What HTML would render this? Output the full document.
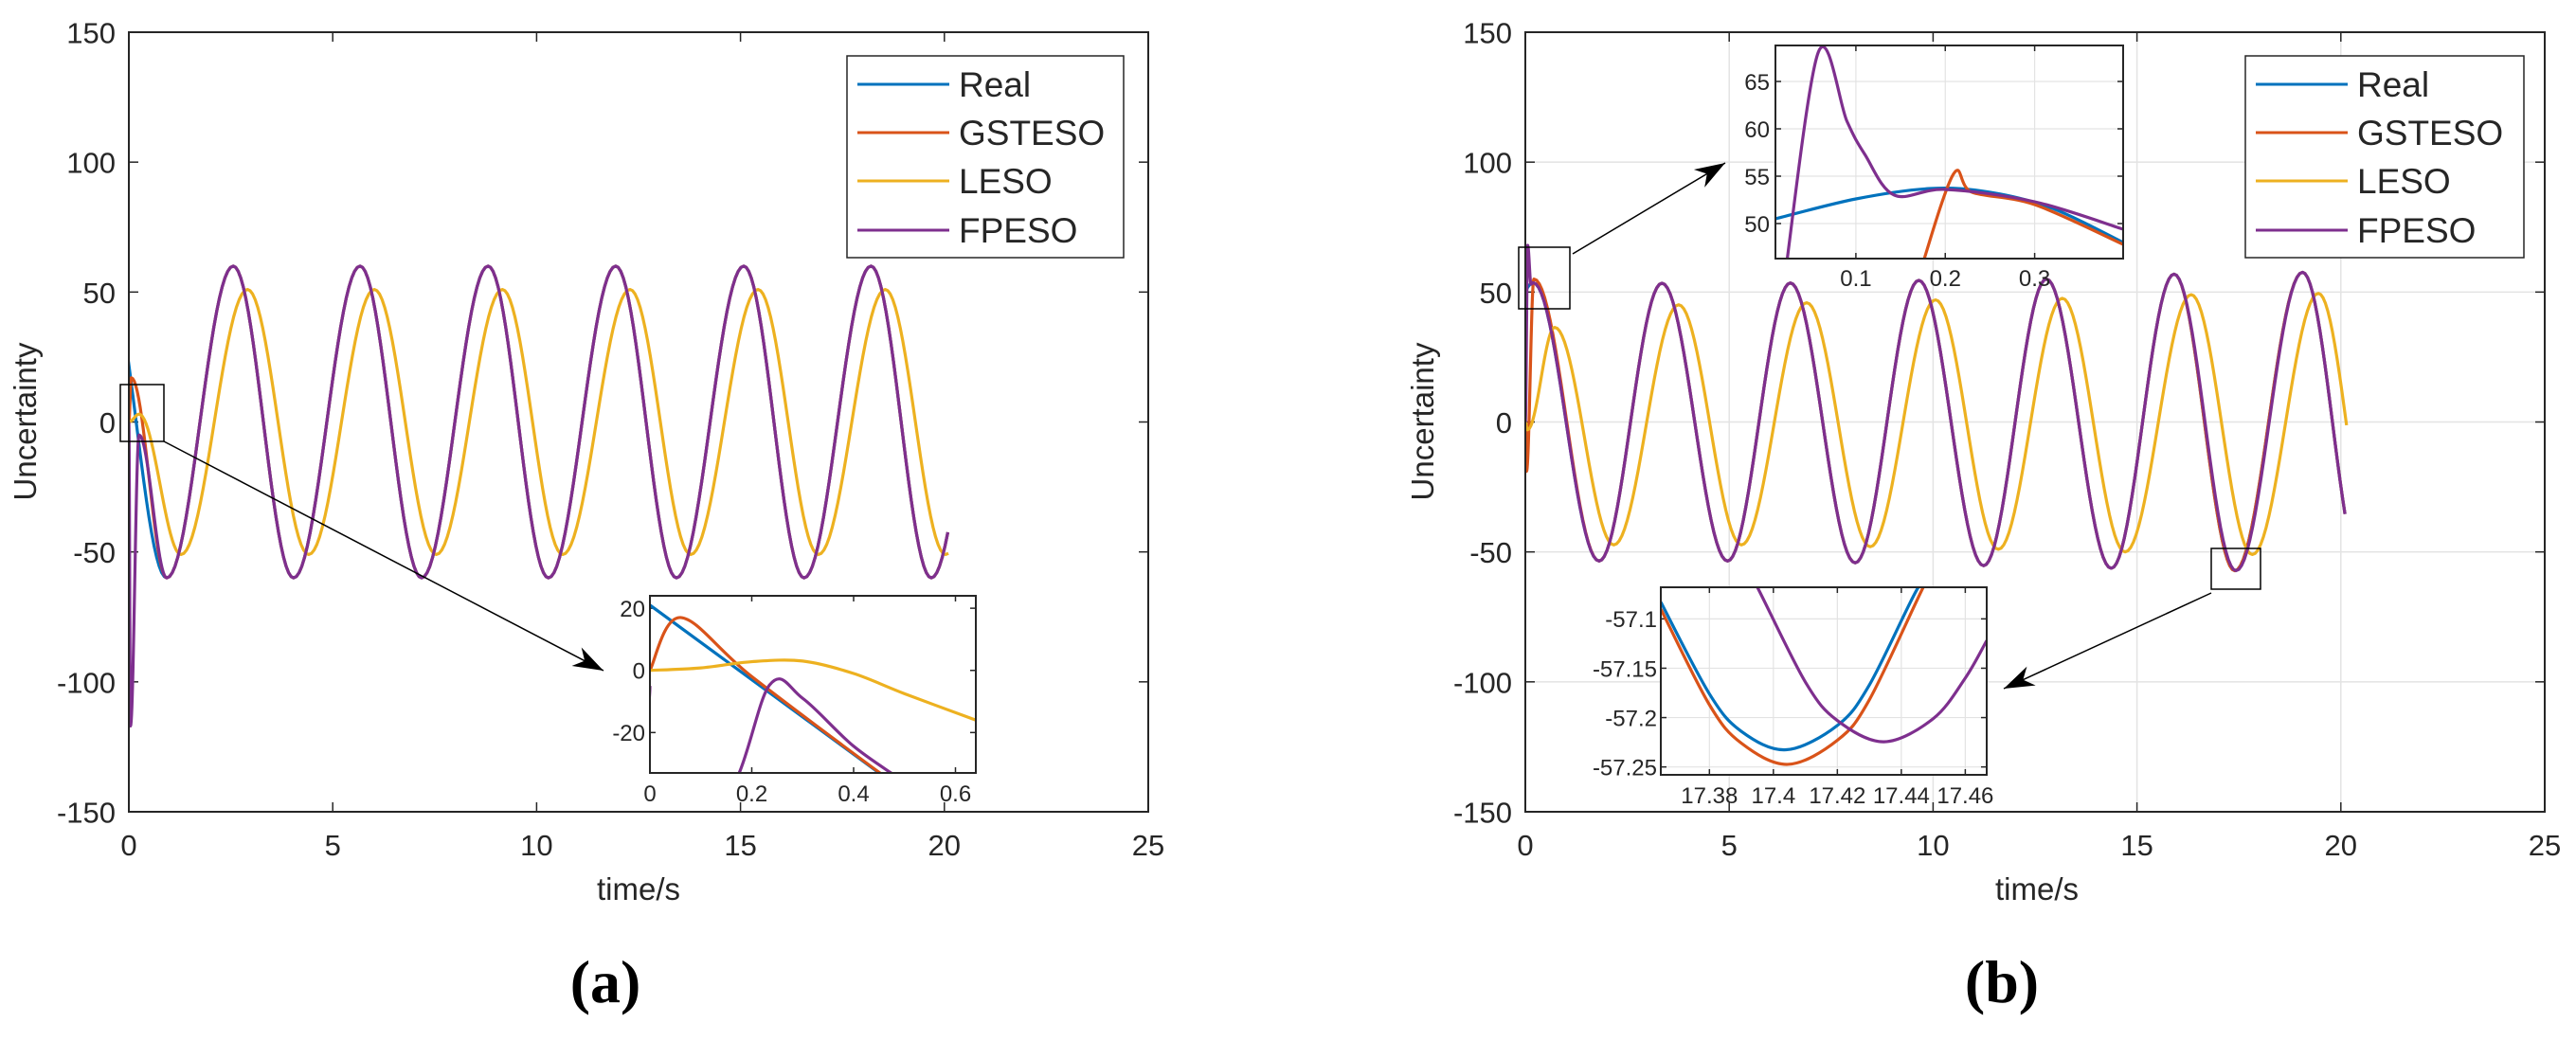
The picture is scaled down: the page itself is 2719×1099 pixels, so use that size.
<!DOCTYPE html>
<html><head><meta charset="utf-8"><style>
html,body{margin:0;padding:0;background:#fff;}
svg{display:block;font-family:"Liberation Sans",Arial,sans-serif;}
</style></head><body>
<svg id="fig" width="2719" height="1099" viewBox="0 0 2719 1099" xmlns="http://www.w3.org/2000/svg">
<defs>
<clipPath id="clipA"><rect x="136" y="34" width="1076" height="823"/></clipPath>
<clipPath id="clipB"><rect x="1610" y="34" width="1076" height="823"/></clipPath>
<clipPath id="clipIA"><rect x="686" y="629" width="344" height="187"/></clipPath>
<clipPath id="clipIB1"><rect x="1874" y="48" width="367" height="225"/></clipPath>
<clipPath id="clipIB2"><rect x="1753" y="620" width="344" height="198"/></clipPath>
</defs>
</svg>
<script>
// ---------- Panel (a) data ----------
const realA_t = [-0.57,0.93,2.56,4.04,5.67,7.18,8.81,10.29,11.94,13.43,15.08,16.56,18.2,19.68,21.3];
const realA_v = [60,-60,60,-60,60,-60,60,-60,60,-60,60,-60,60,-60,60];
const gstA_t = [0,0.06,0.93,2.56,4.04,5.67,7.18,8.81,10.29,11.94,13.43,15.08,16.56,18.2,19.68,21.3];
const gstA_v = [0,17,-60,60,-60,60,-60,60,-60,60,-60,60,-60,60,-60,60];
const lesoA_t = [0,0.25,1.28,2.91,4.41,6.02,7.54,9.16,10.64,12.29,13.78,15.43,16.91,18.55,20.03,21.7];
const lesoA_v = [0,3,-51,51,-51,51,-51,51,-51,51,-51,51,-51,51,-51,51];
const fpA_t = [0,0.04,0.25,0.93,2.56,4.04,5.67,7.18,8.81,10.29,11.94,13.43,15.08,16.56,18.2,19.68,21.3];
const fpA_v = [0,-117,-5,-60,60,-60,60,-60,60,-60,60,-60,60,-60,60,-60,60];
const tEndA = 20.1;
// inset (a)
const iaReal_t = [0,0.2,0.45,0.6,0.7];
const iaReal_v = [21,-3,-33,-51,-63];
const iaGst_t = [0,0.06,0.2,0.46,0.6];
const iaGst_v = [0,17,-2,-34,-50];
const iaLeso_t = [0,0.1,0.2,0.3,0.4,0.5,0.64];
const iaLeso_v = [0,0.8,2.8,3,-1,-7.5,-16];
const iaFp_t = [0,0.004,0.15,0.235,0.3,0.4,0.5,0.6];
const iaFp_v = [-5,-40,-40,-4.7,-9,-24.4,-36,-48];

// ---------- Panel (b) data ----------
const realB_t = [-1.4,0.19,1.81,3.35,4.96,6.5,8.09,9.65,11.24,12.78,14.37,15.91,17.40,19.06,20.53];
const realB_v = [-53,53.6,-53.5,53.4,-53.5,53.5,-54.2,54.5,-55.3,55,-56.3,56.9,-57.23,57.6,-58];
const gstB_t = [0,0.03,0.21,1.81,3.35,4.96,6.5,8.09,9.65,11.24,12.78,14.37,15.91,17.40,19.06,20.53];
const gstB_v = [0,-19,55,-53.5,53.4,-53.5,53.5,-54.2,54.5,-55.3,55,-56.3,56.9,-57.25,57.6,-58];
const lesoB_t = [0,0.05,0.72,2.17,3.76,5.3,6.9,8.46,10.06,11.6,13.17,14.71,16.33,17.83,19.45,20.83];
const lesoB_v = [0,-3,36.4,-47.3,45.1,-47.3,45.9,-48,47,-49,47.6,-50,49,-51,49.5,-52];
const fpB_t = [0,0.058,0.14,0.19,1.81,3.35,4.96,6.5,8.09,9.65,11.24,12.78,14.37,15.91,17.43,19.06,20.53];
const fpB_v = [0,68,53,53.6,-53.5,53.4,-53.5,53.5,-54.2,54.5,-55.3,55,-56.3,56.9,-57.22,57.6,-58];
const tEndB = 20.15;
// inset (b) top
const ib1Real_t = [0.01,0.1,0.184,0.25,0.32,0.399];
const ib1Real_v = [50.5,52.6,53.7,53.3,51.6,48];
const ib1Gst_t = [0.17,0.209,0.23,0.3,0.399];
const ib1Gst_v = [44.3,55.2,53.3,52,47.8];
const ib1Fp_t = [0.02,0.058,0.09,0.11,0.143,0.2,0.3,0.399];
const ib1Fp_v = [44,68.1,60.8,57.3,53.0,53.6,52.3,49.4];
// inset (b) bottom
const ib2Real_t = [17.3648,17.38,17.39,17.404,17.42,17.43,17.4446,17.45];
const ib2Real_v = [-57.083,-57.176,-57.214,-57.2326,-57.208,-57.167,-57.072,-57.05];
const ib2Gst_t = [17.3648,17.38,17.39,17.4045,17.42,17.43,17.447,17.452];
const ib2Gst_v = [-57.090,-57.187,-57.226,-57.2474,-57.223,-57.182,-57.067,-57.04];
const ib2Fp_t = [17.39,17.395,17.41,17.42,17.4346,17.45,17.46,17.4667];
const ib2Fp_v = [-57.04,-57.068,-57.164,-57.203,-57.2245,-57.201,-57.160,-57.122];

// ticks
const mainXTicks = [0,5,10,15,20,25];
const mainXLabels = ["0","5","10","15","20","25"];
const mainYTicks = [150,100,50,0,-50,-100,-150];
const mainYLabels = ["150","100","50","0","-50","-100","-150"];
const iaXTicks = [0,0.2,0.4,0.6];
const iaXLabels = ["0","0.2","0.4","0.6"];
const iaYTicks = [20,0,-20];
const iaYLabels = ["20","0","-20"];
const ib1XTicks = [0.1,0.2,0.3];
const ib1XLabels = ["0.1","0.2","0.3"];
const ib1YTicks = [50,55,60,65];
const ib1YLabels = ["50","55","60","65"];
const ib2XTicks = [17.38,17.4,17.42,17.44,17.46];
const ib2XLabels = ["17.38","17.4","17.42","17.44","17.46"];
const ib2YTicks = [-57.1,-57.15,-57.2,-57.25];
const ib2YLabels = ["-57.1","-57.15","-57.2","-57.25"];
const legendNames = ["Real","GSTESO","LESO","FPESO"];

const COL = {real:"#0072BD", gst:"#D95319", leso:"#EDB120", fp:"#7E2F8E"};
const NS = "http://www.w3.org/2000/svg";
const svg = document.getElementById('fig');

function mk(parent, tag, name, attrs, inter){
  const el = document.createElementNS(NS, tag);
  
  
  for (const k in attrs) el.setAttribute(k, attrs[k]);
  parent.appendChild(el);
  return el;
}
function txt(parent, name, x, y, s, size, anchor, extra){
  const a = Object.assign({x:x, y:y, 'font-size':size, 'text-anchor':anchor, fill:'#262626'}, extra||{});
  const t = mk(parent, 'text', name, a, false);
  t.textContent = s;
  return t;
}
function scale(d0,d1,r0,r1){ return v => r0 + (v-d0)/(d1-d0)*(r1-r0); }

function cosPath(ts, vs, tEnd, X, Y){
  let d = "";
  const N = 24;
  for (let i=0;i<ts.length-1;i++){
    for (let k=(i===0?0:1);k<=N;k++){
      const f = k/N;
      const t = ts[i]+(ts[i+1]-ts[i])*f;
      if (t>tEnd) return d;
      const v = vs[i]+(vs[i+1]-vs[i])*(1-Math.cos(Math.PI*f))/2;
      d += (d===""?"M":"L")+X(t).toFixed(2)+","+Y(v).toFixed(2);
    }
  }
  return d;
}
function crPath(ts, vs, X, Y){
  const P = ts.map((t,i)=>[X(t),Y(vs[i])]);
  let d = "M"+P[0][0].toFixed(2)+","+P[0][1].toFixed(2);
  for (let i=0;i<P.length-1;i++){
    const p0=P[Math.max(0,i-1)], p1=P[i], p2=P[i+1], p3=P[Math.min(P.length-1,i+2)];
    const c1=[p1[0]+(p2[0]-p0[0])/6, p1[1]+(p2[1]-p0[1])/6];
    const c2=[p2[0]-(p3[0]-p1[0])/6, p2[1]-(p3[1]-p1[1])/6];
    d += "C"+c1[0].toFixed(2)+","+c1[1].toFixed(2)+" "+c2[0].toFixed(2)+","+c2[1].toFixed(2)+" "+p2[0].toFixed(2)+","+p2[1].toFixed(2);
  }
  return d;
}

function drawAxes(g, box, xT, xL, yT, yL, X, Y, opt){
  const {x0,y0,x1,y1} = box;
  if (opt.grid){
    xT.forEach(t=>{ mk(g,'line','x-grid-line',{x1:X(t),x2:X(t),y1:y0,y2:y1,stroke:'#e3e3e3','stroke-width':opt.gw||1.5}); });
    yT.forEach(v=>{ mk(g,'line','y-grid-line',{x1:x0,x2:x1,y1:Y(v),y2:Y(v),stroke:'#e3e3e3','stroke-width':opt.gw||1.5}); });
  }
  const tl = opt.tick;
  xT.forEach((t,i)=>{
    mk(g,'line','x-tick',{x1:X(t),x2:X(t),y1:y1,y2:y1-tl,stroke:'#262626','stroke-width':1.5});
    mk(g,'line','x-tick-top',{x1:X(t),x2:X(t),y1:y0,y2:y0+tl,stroke:'#262626','stroke-width':1.5});
    txt(g,'x-tick-label',X(t),y1+opt.xlOff,xL[i],opt.fs,'middle');
  });
  yT.forEach((v,i)=>{
    mk(g,'line','y-tick',{x1:x0,x2:x0+tl,y1:Y(v),y2:Y(v),stroke:'#262626','stroke-width':1.5});
    mk(g,'line','y-tick-right',{x1:x1,x2:x1-tl,y1:Y(v),y2:Y(v),stroke:'#262626','stroke-width':1.5});
    txt(g,'y-tick-label',x0-opt.ylOff,Y(v)+opt.fs*0.37,yL[i],opt.fs,'end');
  });
}
function frame(g, box, name){
  mk(g,'rect',name,{x:box.x0,y:box.y0,width:box.x1-box.x0,height:box.y1-box.y0,fill:'none',stroke:'#262626','stroke-width':2});
}
function series(g, name, d, col, clip, w){
  mk(g,'path',name,{d:d,fill:'none',stroke:col,'stroke-width':w||3.2,'stroke-linejoin':'round','clip-path':'url(#'+clip+')'});
}
function legend(g, x0, y0, x1, y1){
  mk(g,'rect','legend-box',{x:x0,y:y0,width:x1-x0,height:y1-y0,fill:'#fff',stroke:'#262626','stroke-width':1.5});
  const cols=[COL.real,COL.gst,COL.leso,COL.fp];
  const ys=[89,140,191,243];
  legendNames.forEach((n,i)=>{
    mk(g,'line','legend-swatch-'+n.toLowerCase(),{x1:x0+11,x2:x0+108,y1:ys[i],y2:ys[i],stroke:cols[i],'stroke-width':3});
    txt(g,'legend-label-'+n.toLowerCase(),x0+118,ys[i]+13,n,37,'start');
  });
}
function arrow(g, name, xa, ya, xb, yb){
  mk(g,'line',name,{x1:xa,y1:ya,x2:xb,y2:yb,stroke:'#000','stroke-width':1.5});
  const ang=Math.atan2(yb-ya,xb-xa), L=32, W=11;
  const bx=xb-L*Math.cos(ang), by=yb-L*Math.sin(ang);
  const px=-Math.sin(ang)*W, py=Math.cos(ang)*W;
  const mx=xb-L*0.7*Math.cos(ang), my=yb-L*0.7*Math.sin(ang);
  mk(g,'path',name+'-head',{d:`M${xb},${yb}L${bx+px},${by+py}L${mx},${my}L${bx-px},${by-py}Z`,fill:'#000'});
}

// ================= Panel A =================
const gA = mk(svg,'g','panel-a',{},false);
const boxA = {x0:136,y0:34,x1:1212,y1:857};
const XA = scale(0,25,136,1212), YA = scale(150,-150,34,857);
drawAxes(gA, boxA, mainXTicks, mainXLabels, mainYTicks, mainYLabels, XA, YA, {tick:10, fs:31, xlOff:46, ylOff:14, grid:false});
series(gA,'series-real-a',cosPath(realA_t,realA_v,tEndA,XA,YA),COL.real,'clipA');
series(gA,'series-gsteso-a',cosPath(gstA_t,gstA_v,tEndA,XA,YA),COL.gst,'clipA');
series(gA,'series-leso-a',cosPath(lesoA_t,lesoA_v,tEndA,XA,YA),COL.leso,'clipA');
series(gA,'series-fpeso-a',cosPath(fpA_t,fpA_v,tEndA,XA,YA),COL.fp,'clipA');
frame(gA, boxA, 'axes-frame-a');
txt(gA,'x-axis-title-a',674,950,'time/s',33,'middle');
txt(gA,'y-axis-title-a',0,0,'Uncertainty',33,'middle',{transform:'translate(38,445) rotate(-90)'});
legend(gA,894,59,1186,272);
mk(gA,'rect','zoom-box-a',{x:127,y:406,width:46,height:60,fill:'none',stroke:'#000','stroke-width':1.5});
arrow(gA,'zoom-arrow-a',173,466,637,708);
// inset a
const boxIA = {x0:686,y0:629,x1:1030,y1:816};
const gIA = mk(gA,'g','inset-a',{},false);
mk(gIA,'rect','inset-a-bg',{x:686,y:629,width:344,height:187,fill:'#fff'});
const XIA = scale(0,0.64,686,1030), YIA = scale(24,-33,629,816);
drawAxes(gIA, boxIA, iaXTicks, iaXLabels, iaYTicks, iaYLabels, XIA, YIA, {tick:6, fs:24, xlOff:30, ylOff:5, grid:false});
series(gIA,'inset-a-real',crPath(iaReal_t,iaReal_v,XIA,YIA),COL.real,'clipIA');
series(gIA,'inset-a-gsteso',crPath(iaGst_t,iaGst_v,XIA,YIA),COL.gst,'clipIA');
series(gIA,'inset-a-leso',crPath(iaLeso_t,iaLeso_v,XIA,YIA),COL.leso,'clipIA');
series(gIA,'inset-a-fpeso',crPath(iaFp_t,iaFp_v,XIA,YIA),COL.fp,'clipIA');
frame(gIA, boxIA, 'inset-a-frame');
txt(gA,'panel-label-a',639,1058,'(a)',64,'middle',{'font-family':'"Liberation Serif",serif','font-weight':'bold',fill:'#000'});

// ================= Panel B =================
const gB = mk(svg,'g','panel-b',{},false);
const boxB = {x0:1610,y0:34,x1:2686,y1:857};
const XB = scale(0,25,1610,2686), YB = scale(150,-150,34,857);
drawAxes(gB, boxB, mainXTicks, mainXLabels, mainYTicks, mainYLabels, XB, YB, {tick:10, fs:31, xlOff:46, ylOff:14, grid:true});
series(gB,'series-real-b',cosPath(realB_t,realB_v,tEndB,XB,YB),COL.real,'clipB');
series(gB,'series-gsteso-b',cosPath(gstB_t,gstB_v,tEndB,XB,YB),COL.gst,'clipB');
series(gB,'series-leso-b',cosPath(lesoB_t,lesoB_v,tEndB,XB,YB),COL.leso,'clipB');
series(gB,'series-fpeso-b',cosPath(fpB_t,fpB_v,tEndB,XB,YB),COL.fp,'clipB');
frame(gB, boxB, 'axes-frame-b');
txt(gB,'x-axis-title-b',2150,950,'time/s',33,'middle');
txt(gB,'y-axis-title-b',0,0,'Uncertainty',33,'middle',{transform:'translate(1513,445) rotate(-90)'});
legend(gB,2370,59,2664,272);
mk(gB,'rect','zoom-box-b-top',{x:1603,y:261,width:54,height:65,fill:'none',stroke:'#000','stroke-width':1.5});
arrow(gB,'zoom-arrow-b-top',1660,268,1821,172);
mk(gB,'rect','zoom-box-b-bottom',{x:2334,y:579,width:52,height:43,fill:'none',stroke:'#000','stroke-width':1.5});
arrow(gB,'zoom-arrow-b-bottom',2334,626,2115,727);
// inset b top
const boxIB1 = {x0:1874,y0:48,x1:2241,y1:273};
const gIB1 = mk(gB,'g','inset-b-top',{},false);
mk(gIB1,'rect','inset-b-top-bg',{x:1874,y:48,width:367,height:225,fill:'#fff'});
const XIB1 = scale(0.01,0.399,1874,2241), YIB1 = scale(68.8,46.3,48,273);
drawAxes(gIB1, boxIB1, ib1XTicks, ib1XLabels, ib1YTicks, ib1YLabels, XIB1, YIB1, {tick:6, fs:24, xlOff:29, ylOff:6, grid:true, gw:1.2});
series(gIB1,'inset-b-top-real',crPath(ib1Real_t,ib1Real_v,XIB1,YIB1),COL.real,'clipIB1');
series(gIB1,'inset-b-top-gsteso',crPath(ib1Gst_t,ib1Gst_v,XIB1,YIB1),COL.gst,'clipIB1');
series(gIB1,'inset-b-top-fpeso',crPath(ib1Fp_t,ib1Fp_v,XIB1,YIB1),COL.fp,'clipIB1');
frame(gIB1, boxIB1, 'inset-b-top-frame');
// inset b bottom
const boxIB2 = {x0:1753,y0:620,x1:2097,y1:818};
const gIB2 = mk(gB,'g','inset-b-bottom',{},false);
mk(gIB2,'rect','inset-b-bottom-bg',{x:1753,y:620,width:344,height:198,fill:'#fff'});
const XIB2 = scale(17.3648,17.4667,1753,2097), YIB2 = scale(-57.068,-57.258,620,818);
drawAxes(gIB2, boxIB2, ib2XTicks, ib2XLabels, ib2YTicks, ib2YLabels, XIB2, YIB2, {tick:6, fs:24, xlOff:30, ylOff:4, grid:true, gw:1.2});
series(gIB2,'inset-b-bottom-real',crPath(ib2Real_t,ib2Real_v,XIB2,YIB2),COL.real,'clipIB2');
series(gIB2,'inset-b-bottom-gsteso',crPath(ib2Gst_t,ib2Gst_v,XIB2,YIB2),COL.gst,'clipIB2');
series(gIB2,'inset-b-bottom-fpeso',crPath(ib2Fp_t,ib2Fp_v,XIB2,YIB2),COL.fp,'clipIB2');
frame(gIB2, boxIB2, 'inset-b-bottom-frame');
txt(gB,'panel-label-b',2113,1058,'(b)',64,'middle',{'font-family':'"Liberation Serif",serif','font-weight':'bold',fill:'#000'});
</script>
</body></html>
